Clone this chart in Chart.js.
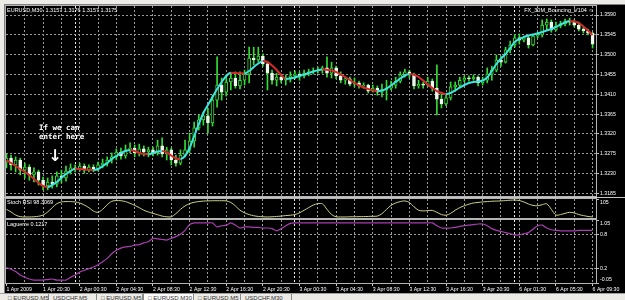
<!DOCTYPE html>
<html>
<head>
<meta charset="utf-8">
<script src="https://cdn.jsdelivr.net/npm/chart.js@4.4.1/dist/chart.umd.min.js"></script>
<style>
  html, body { margin: 0; padding: 0; }
  body { width: 625px; height: 300px; overflow: hidden; position: relative; background: #ecebe6; font-family: "Liberation Sans", Arial, sans-serif; }
  #frame { position: absolute; left: 4px; top: 4px; width: 621px; height: 289px; background: #000; border-top: 1px solid #808080; border-left: 1px solid #808080; box-sizing: border-box; }
  canvas { position: absolute; left: 4px; }
  #cMain { top: 4px; }
  #cStoch { top: 197px; }
  #cLag { top: 219px; }
  .split { position: absolute; left: 4px; width: 621px; height: 1px; background: #c4c4c4; }
  #tabs { position: absolute; left: 0; top: 293px; width: 625px; height: 7px; background: #ecebe6; border-top: 1px solid #a0a0a0; }
  .tab { position: absolute; top: 0; height: 8px; font-size: 6px; line-height: 8px; color: #333; white-space: nowrap; border-right: 1px solid #8a8a8a; padding-left: 4px; box-sizing: border-box; }
  .tab.on { background: #fff; border-left: 1px solid #8a8a8a; }
</style>
</head>
<body>
<div id="frame"></div>
<canvas id="cMain" width="621" height="193"></canvas>
<canvas id="cStoch" width="621" height="22"></canvas>
<canvas id="cLag" width="621" height="74"></canvas>
<div class="split" style="top:197px"></div>
<div id="tabs">
  <div class="tab" style="left:4px;width:45px">&#9633; EURUSD,M5</div>
  <div class="tab" style="left:49px;width:48px">USDCHF,M5</div>
  <div class="tab" style="left:97px;width:46px">&#9633; EURUSD,M5</div>
  <div class="tab on" style="left:143px;width:51px">&#9633; EURUSD,M30</div>
  <div class="tab" style="left:194px;width:47px">&#9633; EURUSD,M5</div>
  <div class="tab" style="left:241px;width:51px">USDCHF,M30</div>
</div>
<script>
// EURUSD M30, 129 bars (1 Apr 16:30 .. 6 Apr 09:30). Bar index = array index.
const timeLabels = ["1 Apr 2009", "1 Apr 20:30", "2 Apr 00:30", "2 Apr 04:30", "2 Apr 08:30", "2 Apr 12:30",
  "2 Apr 16:30", "2 Apr 20:30", "3 Apr 00:30", "3 Apr 04:30", "3 Apr 08:30", "3 Apr 12:30", "3 Apr 16:30",
  "3 Apr 20:30", "6 Apr 01:30", "6 Apr 05:30", "6 Apr 09:30"];
const daySeparators = [15, 63, 111];
const priceTicks = [1.3185, 1.3230, 1.3275, 1.3320, 1.3365, 1.3410, 1.3455, 1.3500, 1.3545, 1.3590];
const stochTicks = [105, -5];
const laguerreTicks = [1.05, 0.8, 0.2, -0.05];

const open = [
  1.3256, 1.3265, 1.3250, 1.3261, 1.3238, 1.3245, 1.3227, 1.3234, 1.3215, 1.3202,
  1.3211, 1.3206, 1.3225, 1.3220, 1.3236, 1.3243, 1.3240, 1.3247, 1.3238, 1.3245,
  1.3240, 1.3250, 1.3254, 1.3261, 1.3268, 1.3279, 1.3270, 1.3284, 1.3288, 1.3277,
  1.3286, 1.3279, 1.3284, 1.3277, 1.3293, 1.3275, 1.3284, 1.3261, 1.3254, 1.3272,
  1.3284, 1.3304, 1.3334, 1.3352, 1.3361, 1.3345, 1.3397, 1.3431, 1.3415, 1.3438,
  1.3447, 1.3429, 1.3442, 1.3456, 1.3492, 1.3488, 1.3497, 1.3479, 1.3458, 1.3442,
  1.3449, 1.3442, 1.3447, 1.3452, 1.3456, 1.3452, 1.3458, 1.3461, 1.3463, 1.3465,
  1.3470, 1.3458, 1.3470, 1.3452, 1.3442, 1.3445, 1.3433, 1.3436, 1.3429, 1.3431,
  1.3417, 1.3424, 1.3415, 1.3420, 1.3424, 1.3431, 1.3440, 1.3454, 1.3461, 1.3454,
  1.3429, 1.3433, 1.3431, 1.3440, 1.3424, 1.3399, 1.3388, 1.3402, 1.3427, 1.3431,
  1.3442, 1.3447, 1.3445, 1.3449, 1.3436, 1.3442, 1.3456, 1.3465, 1.3488, 1.3483,
  1.3511, 1.3522, 1.3538, 1.3533, 1.3538, 1.3522, 1.3542, 1.3545, 1.3567, 1.3574,
  1.3556, 1.3565, 1.3570, 1.3576, 1.3574, 1.3567, 1.3558, 1.3554, 1.3549];
const high = [
  1.3275, 1.3272, 1.3268, 1.3265, 1.3254, 1.3250, 1.3243, 1.3238, 1.3222, 1.3220,
  1.3225, 1.3234, 1.3238, 1.3247, 1.3252, 1.3250, 1.3254, 1.3252, 1.3250, 1.3250,
  1.3256, 1.3263, 1.3268, 1.3277, 1.3286, 1.3288, 1.3295, 1.3300, 1.3295, 1.3297,
  1.3293, 1.3290, 1.3290, 1.3306, 1.3311, 1.3290, 1.3288, 1.3272, 1.3284, 1.3306,
  1.3322, 1.3347, 1.3363, 1.3370, 1.3379, 1.3408, 1.3495, 1.3447, 1.3454, 1.3458,
  1.3461, 1.3461, 1.3465, 1.3517, 1.3517, 1.3517, 1.3502, 1.3483, 1.3465, 1.3458,
  1.3456, 1.3454, 1.3461, 1.3463, 1.3461, 1.3465, 1.3467, 1.3470, 1.3472, 1.3474,
  1.3495, 1.3483, 1.3474, 1.3461, 1.3449, 1.3449, 1.3447, 1.3440, 1.3436, 1.3433,
  1.3431, 1.3429, 1.3433, 1.3442, 1.3440, 1.3449, 1.3461, 1.3467, 1.3465, 1.3458,
  1.3442, 1.3438, 1.3449, 1.3445, 1.3477, 1.3415, 1.3411, 1.3438, 1.3438, 1.3449,
  1.3452, 1.3452, 1.3454, 1.3452, 1.3449, 1.3470, 1.3474, 1.3499, 1.3497, 1.3517,
  1.3531, 1.3545, 1.3547, 1.3542, 1.3542, 1.3547, 1.3551, 1.3579, 1.3581, 1.3579,
  1.3574, 1.3576, 1.3581, 1.3583, 1.3579, 1.3574, 1.3563, 1.3558, 1.3551];
const low = [
  1.3243, 1.3238, 1.3234, 1.3227, 1.3220, 1.3215, 1.3211, 1.3204, 1.3193, 1.3193,
  1.3197, 1.3200, 1.3209, 1.3213, 1.3229, 1.3234, 1.3236, 1.3231, 1.3234, 1.3234,
  1.3236, 1.3243, 1.3247, 1.3254, 1.3261, 1.3263, 1.3265, 1.3277, 1.3268, 1.3270,
  1.3270, 1.3268, 1.3270, 1.3272, 1.3268, 1.3261, 1.3250, 1.3247, 1.3250, 1.3268,
  1.3277, 1.3290, 1.3329, 1.3340, 1.3322, 1.3338, 1.3381, 1.3397, 1.3406, 1.3420,
  1.3424, 1.3422, 1.3431, 1.3436, 1.3477, 1.3483, 1.3474, 1.3420, 1.3433, 1.3429,
  1.3436, 1.3431, 1.3438, 1.3445, 1.3442, 1.3447, 1.3452, 1.3456, 1.3458, 1.3458,
  1.3449, 1.3447, 1.3445, 1.3436, 1.3433, 1.3429, 1.3427, 1.3424, 1.3424, 1.3413,
  1.3415, 1.3408, 1.3404, 1.3397, 1.3420, 1.3424, 1.3436, 1.3449, 1.3447, 1.3422,
  1.3424, 1.3424, 1.3427, 1.3417, 1.3363, 1.3379, 1.3384, 1.3397, 1.3417, 1.3424,
  1.3438, 1.3440, 1.3442, 1.3429, 1.3431, 1.3436, 1.3442, 1.3461, 1.3474, 1.3481,
  1.3504, 1.3517, 1.3524, 1.3529, 1.3515, 1.3520, 1.3538, 1.3540, 1.3556, 1.3551,
  1.3554, 1.3561, 1.3565, 1.3567, 1.3563, 1.3554, 1.3549, 1.3545, 1.3515];
const close = [
  1.3265, 1.3250, 1.3261, 1.3238, 1.3245, 1.3227, 1.3234, 1.3215, 1.3202, 1.3211,
  1.3206, 1.3225, 1.3220, 1.3236, 1.3243, 1.3240, 1.3247, 1.3238, 1.3245, 1.3240,
  1.3250, 1.3254, 1.3261, 1.3268, 1.3279, 1.3270, 1.3284, 1.3288, 1.3277, 1.3286,
  1.3279, 1.3284, 1.3277, 1.3293, 1.3275, 1.3284, 1.3261, 1.3254, 1.3272, 1.3284,
  1.3304, 1.3334, 1.3352, 1.3361, 1.3345, 1.3397, 1.3431, 1.3415, 1.3438, 1.3447,
  1.3429, 1.3442, 1.3456, 1.3492, 1.3488, 1.3497, 1.3479, 1.3458, 1.3442, 1.3449,
  1.3442, 1.3447, 1.3452, 1.3456, 1.3452, 1.3458, 1.3461, 1.3463, 1.3465, 1.3470,
  1.3458, 1.3470, 1.3452, 1.3442, 1.3445, 1.3433, 1.3436, 1.3429, 1.3431, 1.3417,
  1.3424, 1.3415, 1.3420, 1.3424, 1.3431, 1.3440, 1.3454, 1.3461, 1.3454, 1.3429,
  1.3433, 1.3431, 1.3440, 1.3424, 1.3399, 1.3388, 1.3402, 1.3427, 1.3431, 1.3442,
  1.3447, 1.3445, 1.3449, 1.3436, 1.3442, 1.3456, 1.3465, 1.3488, 1.3483, 1.3511,
  1.3522, 1.3538, 1.3533, 1.3538, 1.3522, 1.3542, 1.3545, 1.3567, 1.3574, 1.3556,
  1.3565, 1.3570, 1.3576, 1.3574, 1.3567, 1.3558, 1.3554, 1.3549, 1.3524];
// FX_30M_Bouncing smoothed line (cyan rising, red falling)
const bounceLine = [
  1.32609, 1.32541, 1.32473, 1.32405, 1.32337, 1.32269, 1.32178, 1.32087, 1.32019, 1.31996,
  1.32042, 1.32110, 1.32200, 1.32291, 1.32359, 1.32409, 1.32405, 1.32396, 1.32387, 1.32382,
  1.32405, 1.32473, 1.32541, 1.32632, 1.32700, 1.32768, 1.32813, 1.32836, 1.32813, 1.32768,
  1.32745, 1.32738, 1.32768, 1.32802, 1.32813, 1.32779, 1.32711, 1.32643, 1.32632, 1.32700,
  1.32881, 1.33154, 1.33426, 1.33676, 1.33858, 1.34039, 1.34221, 1.34380, 1.34516, 1.34588,
  1.34584, 1.34577, 1.34575, 1.34629, 1.34720, 1.34800, 1.34856, 1.34834, 1.34754, 1.34652,
  1.34539, 1.34448, 1.34459, 1.34482, 1.34516, 1.34550, 1.34584, 1.34618, 1.34648, 1.34663,
  1.34657, 1.34641, 1.34607, 1.34550, 1.34493, 1.34425, 1.34357, 1.34300, 1.34255, 1.34221,
  1.34194, 1.34175, 1.34187, 1.34232, 1.34300, 1.34380, 1.34459, 1.34527, 1.34561, 1.34543,
  1.34493, 1.34414, 1.34323, 1.34243, 1.34175, 1.34130, 1.34107, 1.34130, 1.34187, 1.34255,
  1.34312, 1.34357, 1.34380, 1.34391, 1.34414, 1.34482, 1.34629, 1.34788, 1.34913, 1.35015,
  1.35151, 1.35288, 1.35356, 1.35401, 1.35435, 1.35458, 1.35481, 1.35515, 1.35549, 1.35583,
  1.35628, 1.35685, 1.35730, 1.35764, 1.35753, 1.35719, 1.35639, 1.35549, 1.35447];
const stochRsi = [
  45, 30, 12, 3, 1, 1, 2, 5, 12, 30,
  55, 78, 88, 90, 90, 88, 82, 70, 55, 35,
  28, 45, 72, 92, 96, 95, 90, 80, 68, 55,
  40, 30, 22, 14, 6, 2, 2, 20, 45, 65,
  78, 86, 90, 93, 94, 95, 95, 95, 94, 85,
  65, 40, 25, 15, 8, 4, 2, 1, 2, 4,
  6, 9, 11, 15, 25, 40, 55, 70, 78, 77,
  45, 15, 2, 1, 1, 2, 2, 3, 3, 4,
  5, 6, 20, 45, 68, 82, 90, 94, 85, 60,
  40, 36, 38, 39, 28, 15, 11, 22, 40, 55,
  66, 75, 82, 85, 88, 90, 92, 93, 94, 96,
  98, 99, 96, 88, 76, 68, 66, 72, 77, 45,
  12, 15, 22, 28, 24, 15, 9, 4, 1];
const laguerre = [
  0.22, 0.19, 0.15, 0.09, 0.05, 0.02, 0, 0, 0, 0.01,
  0.02, 0, 0, 0, 0.05, 0.09, 0.14, 0.17, 0.20, 0.23,
  0.27, 0.32, 0.38, 0.46, 0.52, 0.56, 0.58, 0.59, 0.61, 0.62,
  0.65, 0.67, 0.73, 0.72, 0.71, 0.70, 0.73, 0.76, 0.80, 0.87,
  0.97, 1, 1, 1, 1, 1, 0.93, 0.95, 0.96, 1,
  0.96, 0.91, 0.93, 0.93, 0.92, 0.92, 0.91, 0.91, 0.90, 0.86,
  0.90, 0.95, 0.99, 1, 1, 1, 1, 1, 1, 1,
  1, 1, 1, 1, 1, 1, 1, 1, 1, 1,
  1, 1, 1, 1, 1, 1, 1, 1, 1, 1,
  1, 1, 1, 1, 0.95, 0.91, 0.91, 0.91, 0.92, 0.94,
  0.95, 0.96, 0.97, 0.98, 0.98, 0.95, 0.90, 0.87, 0.85, 0.83,
  0.81, 0.79, 0.79, 0.81, 0.83, 0.89, 0.95, 0.96, 0.91, 0.88,
  0.87, 0.86, 0.86, 0.86, 0.86, 0.87, 0.87, 0.87, 0.87];

const GRID = "#9a9a9a", SEP = "#eeeeee", FRAME = "#b4b4b4", NONE = "rgba(0,0,0,0)";
const LIME = "#33dd33", UP = "#3fe3e3", DOWN = "#d62a2a";
const AXIS_FONT = { family: "Liberation Sans, Arial, sans-serif", size: 5.2, lineHeight: 1.2 };
const LABEL_FONT = "5.5px Liberation Sans, Arial, sans-serif";
const X_MIN = -0.1, X_MAX = 128.75;

// Panel frame plus the text that MT4 prints inside each window.
function decor(items) {
  return {
    id: "decor",
    afterDraw(chart) {
      const ctx = chart.ctx, a = chart.chartArea;
      ctx.save();
      ctx.strokeStyle = FRAME;
      ctx.lineWidth = 1;
      ctx.strokeRect(a.left - 0.5, a.top - 0.5, a.right - a.left + 1, a.bottom - a.top + 1);
      ctx.textBaseline = "middle";
      items.forEach(function (t) {
        ctx.font = t.font || LABEL_FONT;
        ctx.fillStyle = "#fff";
        ctx.textAlign = t.align || "left";
        ctx.fillText(t.text, t.x, t.y);
      });
      ctx.restore();
    }
  };
}

function xAxis(withLabels, height) {
  return {
    type: "linear", min: X_MIN, max: X_MAX, offset: false,
    afterBuildTicks: function (s) {
      const vals = daySeparators.slice();
      for (let v = 0; v <= 128; v += 4) vals.push(v);
      s.ticks = vals.sort(function (a, b) { return a - b; }).map(function (v) { return { value: v }; });
    },
    afterFit: function (s) { s.height = height; s.paddingLeft = 0; s.paddingRight = 0; },
    grid: {
      offset: false, lineWidth: 1, drawTicks: withLabels, tickLength: 3,
      color: function (c) {
        if (!c.tick || c.tick.value === 0) return NONE;
        return daySeparators.indexOf(c.tick.value) >= 0 ? SEP : GRID;
      },
      tickColor: function (c) { return c.tick && c.tick.value % 8 === 0 ? "#cfcfcf" : NONE; }
    },
    border: { display: false, dash: [2, 2] },
    ticks: {
      display: withLabels, autoSkip: false, maxRotation: 0, minRotation: 0, align: "start",
      padding: 0, color: "#fff", font: AXIS_FONT,
      callback: function (v) { return v % 8 === 0 ? timeLabels[v / 8] : ""; }
    }
  };
}

function yAxis(min, max, tickVals, label, gridColor) {
  return {
    position: "right", min: min, max: max,
    afterBuildTicks: function (s) { s.ticks = tickVals.map(function (v) { return { value: v }; }); },
    afterFit: function (s) { s.width = 29; s.paddingTop = 0; s.paddingBottom = 0; },
    grid: { color: gridColor, drawTicks: true, tickLength: 3, tickColor: "#bfbfbf" },
    border: { display: false, dash: [2, 2] },
    ticks: { color: "#fff", font: AXIS_FONT, padding: 1, callback: label }
  };
}

const common = { responsive: false, animation: false, events: [],
  plugins: { legend: { display: false }, tooltip: { enabled: false } } };

// 1) Price window: candles + bouncing line.
new Chart(document.getElementById("cMain"), {
  type: "bar",
  data: {
    datasets: [
      {
        type: "line", order: 0,
        data: bounceLine.map(function (v, i) { return { x: i, y: v }; }),
        borderColor: UP, borderWidth: 2, pointRadius: 0, cubicInterpolationMode: "monotone",
        segment: { borderColor: function (s) { return s.p1.parsed.y >= s.p0.parsed.y ? UP : DOWN; } }
      },
      {
        order: 1, grouped: false, barThickness: 3, maxBarThickness: 3, minBarLength: 1,
        data: close.map(function (c, i) { return { x: i, y: [open[i], c] }; }),
        backgroundColor: close.map(function (c, i) { return c >= open[i] ? "#000" : "#f6f6f6"; }),
        borderColor: close.map(function (c, i) { return c >= open[i] ? LIME : "#e6ffe6"; }),
        borderWidth: 1, borderSkipped: false
      },
      {
        order: 2, grouped: false, barThickness: 1, maxBarThickness: 1,
        data: low.map(function (l, i) { return { x: i, y: [l, high[i]] }; }),
        backgroundColor: LIME
      }
    ]
  },
  options: Object.assign({}, common, {
    layout: { padding: { left: 2, top: 2, right: 0, bottom: 0 } },
    scales: {
      x: xAxis(false, 1),
      y: yAxis(1.31792, 1.36105, priceTicks, function (v) { return v.toFixed(4); }, GRID)
    }
  }),
  plugins: [decor([
    { text: "EURUSD,M30  1.3157 1.3176 1.3157 1.3175", x: 3, y: 6 },
    { text: "FX_30M_Bouncing_V104 \u263A", x: 590, y: 6, align: "right" },
    { text: "If we can", x: 35, y: 124, font: "bold 7.5px DejaVu Sans Mono, monospace" },
    { text: "enter here", x: 35, y: 133, font: "bold 7.5px DejaVu Sans Mono, monospace" },
    { text: "\u2193", x: 51, y: 153, align: "center", font: "bold 16px DejaVu Sans, sans-serif" }
  ])]
});

// 2) Stoch RSI window.
new Chart(document.getElementById("cStoch"), {
  type: "line",
  data: { datasets: [{
    data: stochRsi.map(function (v, i) { return { x: i, y: v }; }),
    borderColor: "#cfcf8a", borderWidth: 1, pointRadius: 0, tension: 0.3
  }] },
  options: Object.assign({}, common, {
    layout: { padding: { left: 2, top: 2, right: 0, bottom: 0 } },
    scales: {
      x: xAxis(false, 1),
      y: yAxis(-5, 105, stochTicks, function (v) { return v === 105 ? ["", "105"] : "-5.00"; }, NONE)
    }
  }),
  plugins: [decor([{ text: "Stoch RSI 98.3069", x: 3, y: 5 }])]
});

// 3) Laguerre window with the time axis.
new Chart(document.getElementById("cLag"), {
  type: "line",
  data: { datasets: [{
    data: laguerre.map(function (v, i) { return { x: i, y: v }; }),
    borderColor: "#a83fb0", borderWidth: 1.2, pointRadius: 0, tension: 0.2
  }] },
  options: Object.assign({}, common, {
    layout: { padding: { left: 2, top: 1, right: 0, bottom: 0 } },
    scales: {
      x: xAxis(true, 10),
      y: yAxis(-0.05, 1.05, laguerreTicks, function (v) {
        if (v === 1.05) return ["", "1.05"];
        if (v === -0.05) return ["-0.05", ""];
        return String(v);
      }, function (c) { return c.tick && (c.tick.value === 0.8 || c.tick.value === 0.2) ? GRID : NONE; })
    }
  }),
  plugins: [decor([{ text: "Laguerre 0.1217", x: 3, y: 5 }])]
});
</script>
</body>
</html>
